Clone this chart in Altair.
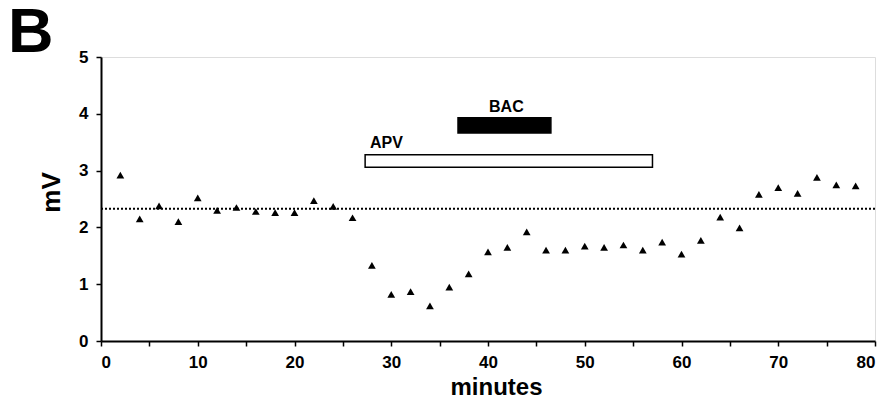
import altair as alt
import pandas as pd

minutes = [2, 4, 6, 8, 10, 12, 14, 16, 18, 20, 22, 24, 26, 28, 30, 32, 34, 36, 38,
           40, 42, 44, 46, 48, 50, 52, 54, 56, 58, 60, 62, 64, 66, 68, 70, 72, 74, 76, 78]
mv = [2.92, 2.15, 2.38, 2.1, 2.52, 2.3, 2.35, 2.28, 2.26, 2.26, 2.47, 2.37, 2.17,
      1.33, 0.82, 0.87, 0.62, 0.95, 1.18, 1.57, 1.65, 1.92, 1.6, 1.6, 1.67, 1.65,
      1.69, 1.6, 1.74, 1.53, 1.77, 2.18, 1.99, 2.58, 2.7, 2.6, 2.88, 2.75, 2.73]

baseline_level = 2.33
baseline_span = [0, 80]

bar_names = ["APV", "BAC"]
bar_start = [27.3, 36.9]
bar_end = [57.0, 46.5]
bar_low = [3.06, 3.66]
bar_high = [3.28, 3.93]
bar_fill = ["white", "black"]

label_text = ["APV", "BAC"]
label_x = [27.8, 41.9]
label_y = [3.40, 4.03]
label_align = ["left", "center"]

FONT = "Liberation Sans"

pts = pd.DataFrame({"minutes": minutes, "mV": mv})
base_df = pd.DataFrame({"x": [baseline_span[0]], "x2": [baseline_span[1]], "y": [baseline_level]})
bars = pd.DataFrame({"name": bar_names, "x": bar_start, "x2": bar_end,
                     "y": bar_low, "y2": bar_high, "fill": bar_fill})
labels = pd.DataFrame({"text": label_text, "x": label_x, "y": label_y, "align": label_align})

xscale = alt.Scale(domain=[0, 80], nice=False, zero=False)
yscale = alt.Scale(domain=[0, 5], nice=False)

xaxis = alt.Axis(values=list(range(0, 81, 5)),
                 labelExpr="datum.value % 10 == 0 ? format(datum.value, 'd') : ''",
                 grid=False, domainColor="black", domainWidth=2, tickColor="black",
                 tickWidth=1.5, tickSize=5, labelFont=FONT, labelFontSize=17,
                 labelFontWeight="bold", labelColor="black", labelPadding=8,
                 title="minutes", titleFont=FONT, titleFontSize=24,
                 titleFontWeight="bold", titleColor="black",
                 titleX=395, titleY=53, titleBaseline="alphabetic", titleAlign="center")
yaxis = alt.Axis(values=[i * 0.5 for i in range(11)],
                 labelExpr="datum.value % 1 == 0 ? format(datum.value, 'd') : ''",
                 grid=False, domainColor="black", domainWidth=2, tickColor="black",
                 tickWidth=1.5, tickSize=5, labelFont=FONT, labelFontSize=17,
                 labelFontWeight="bold", labelColor="black", labelPadding=8,
                 title="mV", titleFont=FONT, titleFontSize=26,
                 titleFontWeight="bold", titleColor="black",
                 titleX=-42, titleY=135, titleAngle=270, titleAlign="center",
                 titleBaseline="alphabetic")

points = alt.Chart(pts).mark_point(shape="triangle-up", filled=True, color="black",
                                   size=60, opacity=1).encode(
    x=alt.X("minutes:Q", scale=xscale, axis=xaxis),
    y=alt.Y("mV:Q", scale=yscale, axis=yaxis),
)

dotted = alt.Chart(base_df).mark_rule(color="black", strokeWidth=2,
                                      strokeDash=[2, 2]).encode(
    x=alt.X("x:Q", scale=xscale), x2="x2:Q", y=alt.Y("y:Q", scale=yscale))

bar_marks = alt.Chart(bars).mark_rect(stroke="black", strokeWidth=1.5).encode(
    x=alt.X("x:Q", scale=xscale), x2="x2:Q",
    y=alt.Y("y:Q", scale=yscale), y2="y2:Q",
    fill=alt.Fill("fill:N", scale=None))

text_left = alt.Chart(labels).mark_text(font=FONT, fontSize=16, fontWeight="bold",
                                        color="black", baseline="alphabetic",
                                        align="left").encode(
    x=alt.X("x:Q", scale=xscale), y=alt.Y("y:Q", scale=yscale), text="text:N"
).transform_filter("datum.align == 'left'")
text_center = alt.Chart(labels).mark_text(font=FONT, fontSize=16, fontWeight="bold",
                                          color="black", baseline="alphabetic",
                                          align="center").encode(
    x=alt.X("x:Q", scale=xscale), y=alt.Y("y:Q", scale=yscale), text="text:N"
).transform_filter("datum.align == 'center'")

chart = alt.layer(dotted, bar_marks, points, text_left, text_center).properties(
    width=774, height=284,
    autosize=alt.AutoSizeParams(type="none"),
    padding={"left": 93, "top": 49, "right": 5, "bottom": 60},
    title=alt.TitleParams(text="B", anchor="start", frame="group", dx=-93, dy=67,
                          offset=0, font=FONT, fontSize=63, fontWeight="bold",
                          color="black", baseline="alphabetic"),
).configure_view(stroke=None).configure(background="white")

chart.save("out.html", embed_options={"renderer": "svg", "actions": False})
